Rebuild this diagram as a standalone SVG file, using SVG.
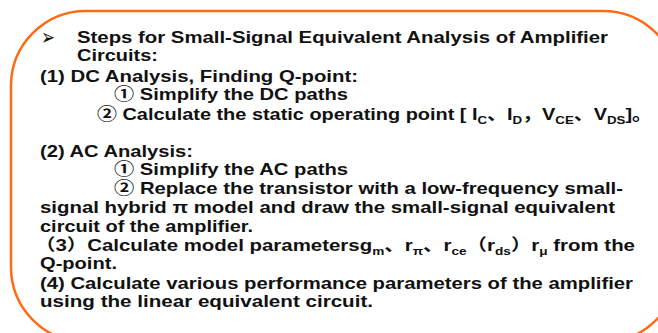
<svg xmlns="http://www.w3.org/2000/svg" width="658" height="333" viewBox="0 0 658 333">
<style>
.t{font-family:"Liberation Sans","Noto Sans CJK SC",Arial,sans-serif;font-weight:bold;font-size:16.5px;fill:#111;}
.s{font-size:11px;}
</style>
<rect x="0" y="0" width="658" height="333" fill="#fff"/>
<rect id="frame" x="11" y="11" width="667" height="331" rx="75" ry="75" fill="none" stroke="#ff6a14" stroke-width="2.5"/>
<g id="content">
<text x="41" y="45" font-family="DejaVu Sans,sans-serif" font-size="23" fill="#111" textLength="14" lengthAdjust="spacingAndGlyphs">➢</text>
<text class="t" x="77" y="43" textLength="531" lengthAdjust="spacingAndGlyphs">Steps for Small-Signal Equivalent Analysis of Amplifier</text>
<text class="t" x="77" y="61" textLength="81" lengthAdjust="spacingAndGlyphs">Circuits:</text>
<text class="t" x="40" y="82" textLength="318" lengthAdjust="spacingAndGlyphs">(1) DC Analysis, Finding Q-point:</text>
<text class="t" x="114" y="100" textLength="234" lengthAdjust="spacingAndGlyphs">① Simplify the DC paths</text>
<text class="t" x="97" y="120" textLength="555" lengthAdjust="spacingAndGlyphs">② Calculate the static operating point [ I<tspan class="s" dy="4">C</tspan><tspan dy="-4">、I</tspan><tspan class="s" dy="4">D</tspan><tspan dy="-4">，V</tspan><tspan class="s" dy="4">CE</tspan><tspan dy="-4">、V</tspan><tspan class="s" dy="4">DS</tspan><tspan dy="-4">]。</tspan></text>
<text class="t" x="40" y="157" textLength="153" lengthAdjust="spacingAndGlyphs">(2) AC Analysis:</text>
<text class="t" x="114" y="175" textLength="234" lengthAdjust="spacingAndGlyphs">① Simplify the AC paths</text>
<text class="t" x="114" y="194" textLength="509" lengthAdjust="spacingAndGlyphs">② Replace the transistor with a low-frequency small-</text>
<text class="t" x="40" y="213" textLength="575" lengthAdjust="spacingAndGlyphs">signal hybrid π model and draw the small-signal equivalent</text>
<text class="t" x="40" y="232" textLength="213" lengthAdjust="spacingAndGlyphs">circuit of the amplifier.</text>
<text class="t" x="35" y="251" textLength="600" lengthAdjust="spacingAndGlyphs">（3）Calculate model parametersg<tspan class="s" dy="4">m</tspan><tspan dy="-4">、r</tspan><tspan class="s" dy="4">π</tspan><tspan dy="-4">、r</tspan><tspan class="s" dy="4">ce</tspan><tspan dy="-4">（r</tspan><tspan class="s" dy="4">ds</tspan><tspan dy="-4">）r</tspan><tspan class="s" dy="4">μ</tspan><tspan dy="-4"> from the</tspan></text>
<text class="t" x="40" y="269" textLength="77" lengthAdjust="spacingAndGlyphs">Q-point.</text>
<text class="t" x="40" y="289" textLength="593" lengthAdjust="spacingAndGlyphs">(4) Calculate various performance parameters of the amplifier</text>
<text class="t" x="40" y="307" textLength="333" lengthAdjust="spacingAndGlyphs">using the linear equivalent circuit.</text>
</g>
</svg>
